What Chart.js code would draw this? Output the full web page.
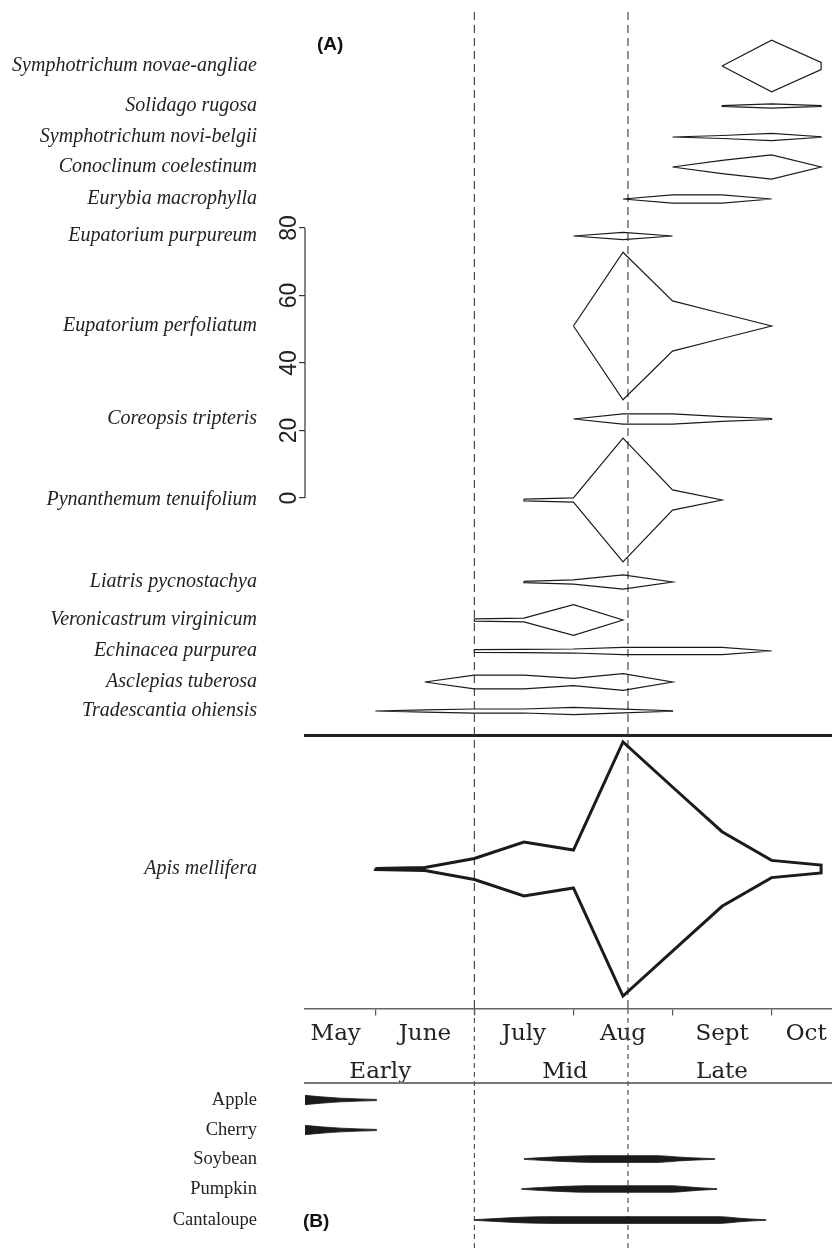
<!DOCTYPE html>
<html><head><meta charset="utf-8">
<script src="https://cdn.jsdelivr.net/npm/chart.js@4"></script>
<style>html,body{margin:0;padding:0;background:#fff;}#wrap{width:832px;height:1250px;}</style>
</head><body><div id="wrap"><canvas id="c" width="832" height="1250"></canvas></div>
<script>
// ---------- DATA ----------
// half-month sampling periods (1 = early June ... 10 = mid Oct)
const periods = [1, 2, 3, 4, 5, 6, 7, 8, 9, 10];
// month boundary ticks and month / phase labels (in period units)
const monthBoundaries = [1, 3, 5, 7, 9];
const monthLabels = ['May', 'June', 'July', 'Aug', 'Sept', 'Oct'];
const monthLabelAt = [0.2, 2, 4, 6, 8, 9.7];
const phaseLabels = ['Early', 'Mid', 'Late'];
const phaseLabelAt = [1.1, 4.83, 8];
const phaseBoundaries = [3, 6.1];
const scaleBarTicks = [0, 20, 40, 60, 80];

// (A) wildflower abundance per period (kite width, scale-bar units)
const plantNames = ['Symphotrichum novae-angliae', 'Solidago rugosa', 'Symphotrichum novi-belgii',
  'Conoclinum coelestinum', 'Eurybia macrophylla', 'Eupatorium purpureum', 'Eupatorium perfoliatum',
  'Coreopsis tripteris', 'Pynanthemum tenuifolium', 'Liatris pycnostachya', 'Veronicastrum virginicum',
  'Echinacea purpurea', 'Asclepias tuberosa', 'Tradescantia ohiensis'];
const symphNovaeAngliae = [null, null, null, null, null, null, null, 0, 15.3, 2.1];
const solidagoRugosa    = [null, null, null, null, null, null, null, 0.25, 1.3, 0.25];
const symphNoviBelgii   = [null, null, null, null, null, null, 0, 0.9, 2.2, 0.15];
const conoclinum        = [null, null, null, null, null, null, 0, 3.9, 7.2, 0];
const eurybia           = [null, null, null, null, null, 0, 2.4, 2.4, 0, null];
const eupPurpureum      = [null, null, null, null, 0, 2.1, 0, null, null, null];
const eupPerfoliatum    = [null, null, null, null, 0, 43.7, 14.9, 7.4, 0, null];
const coreopsis         = [null, null, null, null, 0, 3.0, 3.0, 1.4, 0.3, null];
const pycnanthemum      = [null, null, null, 0.5, 1.3, 36.7, 6.0, 0, null, null];
const liatris           = [null, null, null, 0.4, 1.3, 4.2, 0, null, null, null];
const veronicastrum     = [null, null, 0.7, 1.1, 9.1, 0, null, null, null, null];
const echinacea         = [null, null, 0.8, 1.0, 1.2, 2.1, 2.1, 2.1, 0, null];
const asclepias         = [null, 0, 4.1, 4.1, 2.2, 5.0, 0, null, null, null];
const tradescantia      = [0, 0.7, 1.2, 1.2, 2.2, 1.1, 0.15, null, null, null];
const plantSeries = [symphNovaeAngliae, solidagoRugosa, symphNoviBelgii, conoclinum, eurybia,
  eupPurpureum, eupPerfoliatum, coreopsis, pycnanthemum, liatris, veronicastrum, echinacea,
  asclepias, tradescantia];

// honey bee abundance
const beeName = 'Apis mellifera';
const apisMellifera = [0.3, 0.9, 6.2, 16.0, 11.2, 75.3, 48.6, 22.1, 5.1, 2.3];

// (B) crop bloom (period position, width)
const cropNames = ['Apple', 'Cherry', 'Soybean', 'Pumpkin', 'Cantaloupe'];
const appleAt = [-0.42, -0.1, 0.3, 1.03];      const appleW = [2.75, 1.9, 1.1, 0.35];
const cherryAt = [-0.42, -0.1, 0.3, 1.03];     const cherryW = [2.75, 1.9, 1.1, 0.35];
const soybeanAt = [4.0, 4.4, 4.9, 5.4, 6.7, 7.1, 7.4, 7.86];
const soybeanW  = [0.2, 0.9, 1.6, 2.0, 2.0, 1.2, 0.7, 0.2];
const pumpkinAt = [3.95, 4.35, 4.85, 5.3, 6.95, 7.3, 7.56, 7.9];
const pumpkinW  = [0.2, 0.9, 1.6, 1.95, 1.95, 1.3, 0.7, 0.2];
const cantaloupeAt = [3.0, 3.5, 4.1, 4.6, 7.96, 8.3, 8.57, 8.89];
const cantaloupeW  = [0.2, 1.0, 1.8, 2.0, 2.0, 1.2, 0.6, 0.2];
const cropSeries = [[appleAt, appleW], [cherryAt, cherryW], [soybeanAt, soybeanW],
  [pumpkinAt, pumpkinW], [cantaloupeAt, cantaloupeW]];

// ---------- LAYOUT ----------
const H = 1250;
const X_MIN = -0.42, X_MAX = 10.22;
const UNIT_PX = 3.375;          // pixels per scale-bar unit
const SB_ZERO = 498;            // pixel row of scale-bar zero
const NAMES_W = 262, SB_W = 43;
const plantRowY = [66, 106, 137, 167, 199, 236, 326, 419, 500, 582, 620, 651, 682, 711];
const beeRowY = 869;
const cropRowY = [1100, 1130, 1159, 1189, 1220];
const SEP_Y = 735, AXIS_Y = 1009, PHASE_LINE_Y = 1083, DASH_TOP = 12;
const INK = '#1b1b1b';

// ---------- BUILD ----------
const datasets = [];
function kite(xs, ws, cy, width) {
  const top = [], bot = [];
  xs.forEach((x, i) => {
    if (ws[i] == null) return;
    top.push({x: x, y: cy - ws[i] * UNIT_PX / 2});
    bot.push({x: x, y: cy + ws[i] * UNIT_PX / 2});
  });
  const pts = top.concat(bot.reverse());
  pts.push(top[0]);
  datasets.push({data: pts, borderColor: INK, borderWidth: width, pointRadius: 0, fill: false,
    tension: 0, borderJoinStyle: 'miter', xAxisID: 'x', yAxisID: 'y'});
}
plantSeries.forEach((s, i) => kite(periods, s, plantRowY[i], 1.2));
kite(periods, apisMellifera, beeRowY, 3);

cropSeries.forEach(([xs, ws], i) => {
  const cy = cropRowY[i];
  const common = {borderColor: INK, borderWidth: 0.8, pointRadius: 0, cubicInterpolationMode: 'monotone',
    xAxisID: 'x', yAxisID: 'y'};
  datasets.push(Object.assign({data: xs.map((x, j) => ({x, y: cy - ws[j] * UNIT_PX / 2})), fill: false}, common));
  datasets.push(Object.assign({data: xs.map((x, j) => ({x, y: cy + ws[j] * UNIT_PX / 2})), fill: '-1',
    backgroundColor: INK}, common));
});

// dashed phase boundaries
phaseBoundaries.forEach(b => {
  datasets.push({data: [{x: b, y: DASH_TOP}, {x: b, y: AXIS_Y}], borderColor: '#4a4a4a', borderWidth: 1.2,
    borderDash: [8, 5], pointRadius: 0, fill: false, xAxisID: 'x', yAxisID: 'y'});
  datasets.push({data: [{x: b, y: AXIS_Y}, {x: b, y: H}], borderColor: '#555', borderWidth: 1.2,
    borderDash: [5, 4], pointRadius: 0, fill: false, xAxisID: 'x', yAxisID: 'y'});
});
// scale bar spine
datasets.push({data: [{x: X_MIN, y: scaleBarTicks[0]}, {x: X_MIN, y: scaleBarTicks[scaleBarTicks.length - 1]}],
  borderColor: '#333', borderWidth: 1.2, pointRadius: 0, fill: false, clip: false, xAxisID: 'x', yAxisID: 'ySB'});

const labelRows = plantNames.map((n, i) => ({name: n, y: plantRowY[i], italic: true}))
  .concat([{name: beeName, y: beeRowY, italic: true}])
  .concat(cropNames.map((n, i) => ({name: n, y: cropRowY[i], italic: false})));

function noPad(s) { s.paddingLeft = 0; s.paddingRight = 0; s.paddingTop = 0; s.paddingBottom = 0; }
function xAxis(extra) {
  return Object.assign({type: 'linear', min: X_MIN, max: X_MAX, afterFit: noPad}, extra);
}

const panelLabels = {
  id: 'panelLabels',
  afterDraw(chart) {
    const ctx = chart.ctx;
    ctx.save();
    ctx.fillStyle = '#111';
    ctx.font = 'bold 19px "Liberation Sans", Arial, sans-serif';
    ctx.textBaseline = 'middle';
    ctx.fillText('(A)', 317, 45);
    ctx.fillText('(B)', 303, 1222);
    ctx.restore();
  }
};

Chart.defaults.color = '#222';
new Chart(document.getElementById('c'), {
  type: 'line',
  data: {datasets},
  plugins: [panelLabels],
  options: {
    responsive: false, animation: false, events: [],
    layout: {padding: 0},
    plugins: {legend: {display: false}, tooltip: {enabled: false}},
    scales: {
      y: {type: 'linear', min: 0, max: H, reverse: true, display: false},
      ySB: {type: 'linear', position: 'left', weight: 1,
        min: SB_ZERO / UNIT_PX - H / UNIT_PX, max: SB_ZERO / UNIT_PX,
        afterBuildTicks: s => { s.ticks = scaleBarTicks.map(v => ({value: v})); },
        afterFit: s => { s.width = SB_W; noPad(s); },
        grid: {drawOnChartArea: false, drawTicks: true, tickLength: 6, color: '#333', lineWidth: 1.2},
        border: {display: false},
        ticks: {autoSkip: false, minRotation: 90, maxRotation: 90, crossAlign: 'center', padding: -3,
          color: '#222', font: {family: '"Liberation Sans", Arial, sans-serif', size: 23}}},
      yNames: {type: 'linear', position: 'left', weight: 2, min: 0, max: H, reverse: true,
        afterBuildTicks: s => { s.ticks = labelRows.map(r => ({value: r.y})); },
        afterFit: s => { s.width = NAMES_W; noPad(s); },
        grid: {display: false}, border: {display: false},
        ticks: {autoSkip: false, padding: -3, color: '#222',
          callback: (v, i) => labelRows[i].name,
          font: ctx => (labelRows[ctx.index] && labelRows[ctx.index].italic)
            ? {family: '"Liberation Serif", "Times New Roman", serif', size: 20, style: 'italic'}
            : {family: '"Liberation Serif", "Times New Roman", serif', size: 18.5}}},
      x: xAxis({position: {y: AXIS_Y},
        afterBuildTicks: s => { s.ticks = monthBoundaries.map(v => ({value: v})); },
        ticks: {display: false},
        grid: {drawOnChartArea: false, drawTicks: true, tickLength: 6, color: '#555', lineWidth: 1.2},
        border: {display: true, color: '#666', width: 1.5}}),
      xMonths: xAxis({position: {y: AXIS_Y},
        afterBuildTicks: s => { s.ticks = monthLabelAt.map(v => ({value: v})); },
        grid: {display: false}, border: {display: false},
        ticks: {autoSkip: false, maxRotation: 0, padding: 3, color: '#222',
          callback: (v, i) => monthLabels[i],
          font: {family: '"DejaVu Serif", serif', size: 23}}}),
      xPhases: xAxis({position: {y: AXIS_Y},
        afterBuildTicks: s => { s.ticks = phaseLabelAt.map(v => ({value: v})); },
        grid: {display: false}, border: {display: false},
        ticks: {autoSkip: false, maxRotation: 0, padding: 41, color: '#222',
          callback: (v, i) => phaseLabels[i],
          font: {family: '"DejaVu Serif", serif', size: 23}}}),
      xPhaseLine: xAxis({position: {y: PHASE_LINE_Y}, ticks: {display: false}, grid: {display: false},
        border: {display: true, color: '#777', width: 2}}),
      xSep: xAxis({position: {y: SEP_Y}, ticks: {display: false}, grid: {display: false},
        border: {display: true, color: '#222', width: 3}})
    }
  }
});
</script></body></html>
